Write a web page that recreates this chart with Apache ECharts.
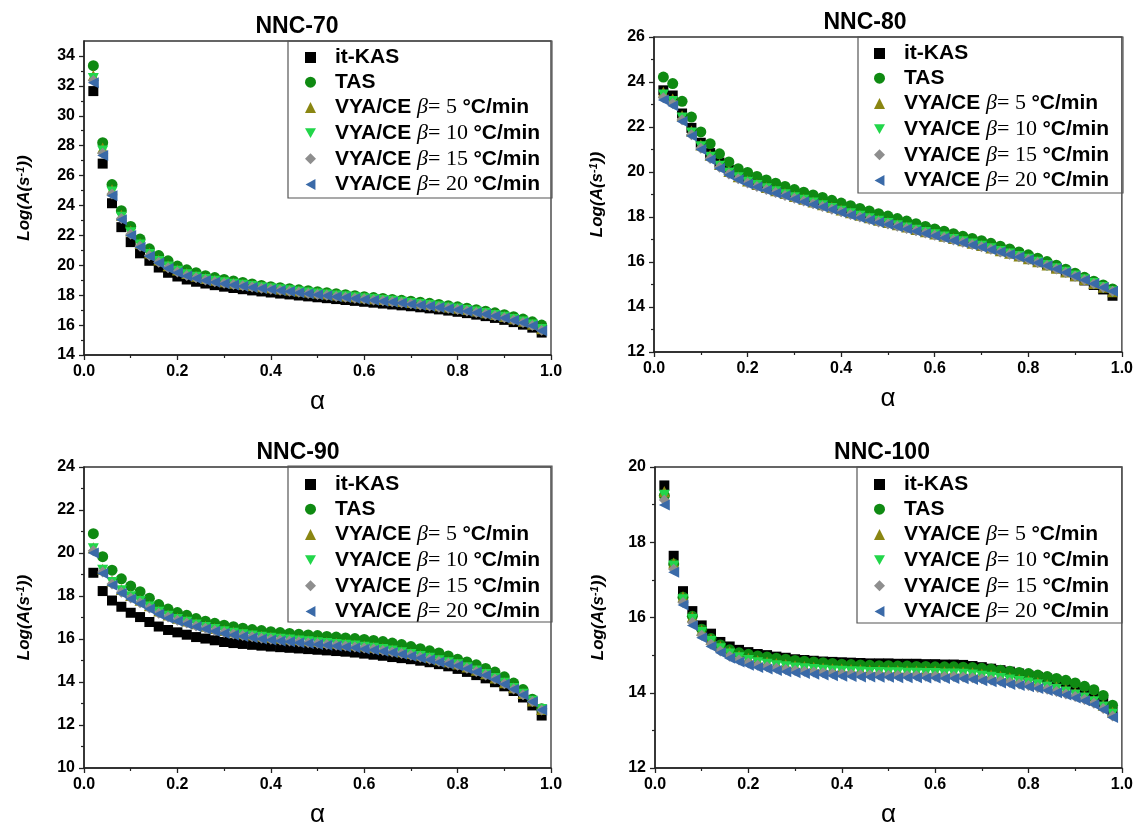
<!DOCTYPE html>
<html>
<head>
<meta charset="utf-8">
<script src="https://cdn.jsdelivr.net/npm/echarts@6/dist/echarts.min.js"></script>
<style>html,body{margin:0;padding:0;background:#fff}#c{width:1136px;height:829px}</style>
</head>
<body>
<div id="c"></div>
<script>
const alpha = [0.02,0.04,0.06,0.08,0.10,0.12,0.14,0.16,0.18,0.20,0.22,0.24,0.26,0.28,0.30,0.32,0.34,0.36,0.38,0.40,0.42,0.44,0.46,0.48,0.50,0.52,0.54,0.56,0.58,0.60,0.62,0.64,0.66,0.68,0.70,0.72,0.74,0.76,0.78,0.80,0.82,0.84,0.86,0.88,0.90,0.92,0.94,0.96,0.98];
const xTicks = [0.0,0.2,0.4,0.6,0.8,1.0];
const seriesNames = ['it-KAS','TAS','VYA/CE 5','VYA/CE 10','VYA/CE 15','VYA/CE 20'];
const panelTitles = ['NNC-70','NNC-80','NNC-90','NNC-100'];
const yTicks70 = [14,16,18,20,22,24,26,28,30,32,34];
const yTicks80 = [12,14,16,18,20,22,24,26];
const yTicks90 = [10,12,14,16,18,20,22,24];
const yTicks100 = [12,14,16,18,20];

// NNC-70
const nnc70_itKAS = [31.65,26.8,24.15,22.55,21.55,20.8,20.3,19.85,19.5,19.25,19.05,18.9,18.78,18.67,18.57,18.48,18.4,18.32,18.25,18.18,18.11,18.05,17.98,17.92,17.86,17.8,17.74,17.68,17.62,17.56,17.5,17.44,17.38,17.32,17.26,17.19,17.12,17.05,16.97,16.89,16.8,16.7,16.6,16.48,16.35,16.2,16.03,15.83,15.5];
const nnc70_TAS = [33.35,28.2,25.4,23.65,22.6,21.75,21.1,20.65,20.3,19.95,19.7,19.5,19.3,19.18,19.05,18.95,18.85,18.75,18.65,18.57,18.5,18.43,18.36,18.3,18.23,18.17,18.1,18.03,17.97,17.9,17.84,17.78,17.72,17.66,17.6,17.53,17.46,17.38,17.3,17.22,17.13,17.03,16.93,16.82,16.7,16.56,16.4,16.22,16.0];
const nnc70_vya5 = [32.7,27.85,25.05,23.35,22.3,21.45,20.82,20.35,19.97,19.68,19.45,19.27,19.12,19.0,18.9,18.8,18.72,18.64,18.56,18.49,18.42,18.35,18.28,18.21,18.14,18.08,18.01,17.95,17.89,17.83,17.77,17.71,17.65,17.58,17.51,17.44,17.37,17.29,17.21,17.13,17.04,16.94,16.83,16.71,16.58,16.43,16.26,16.06,15.75];
const nnc70_vya10 = [32.5,27.65,24.9,23.22,22.17,21.35,20.72,20.26,19.88,19.6,19.37,19.2,19.05,18.93,18.83,18.74,18.66,18.58,18.5,18.43,18.36,18.29,18.22,18.15,18.08,18.02,17.95,17.89,17.83,17.77,17.71,17.65,17.59,17.52,17.45,17.38,17.31,17.23,17.15,17.07,16.98,16.88,16.77,16.65,16.52,16.37,16.2,16.0,15.7];
const nnc70_vya15 = [32.35,27.5,24.77,23.13,22.08,21.27,20.66,20.2,19.83,19.55,19.32,19.16,19.01,18.9,18.8,18.71,18.63,18.55,18.47,18.4,18.33,18.26,18.19,18.12,18.05,17.99,17.92,17.86,17.8,17.74,17.68,17.62,17.56,17.49,17.42,17.35,17.28,17.2,17.12,17.04,16.95,16.85,16.74,16.62,16.49,16.34,16.17,15.97,15.66];
const nnc70_vya20 = [32.2,27.35,24.65,23.05,22.0,21.2,20.6,20.15,19.78,19.5,19.28,19.12,18.98,18.87,18.77,18.68,18.6,18.52,18.45,18.38,18.31,18.24,18.17,18.1,18.03,17.97,17.9,17.84,17.78,17.72,17.66,17.6,17.54,17.47,17.4,17.33,17.26,17.18,17.1,17.02,16.93,16.83,16.72,16.6,16.47,16.32,16.15,15.95,15.62];

// NNC-80
const nnc80_itKAS = [23.63,23.4,22.6,21.96,21.3,20.84,20.42,20.1,19.87,19.7,19.55,19.4,19.27,19.15,19.03,18.91,18.79,18.67,18.56,18.45,18.34,18.23,18.12,18.01,17.9,17.79,17.68,17.57,17.46,17.36,17.25,17.14,17.03,16.92,16.81,16.69,16.57,16.45,16.33,16.2,16.06,15.9,15.74,15.56,15.37,15.18,14.98,14.78,14.5];
const nnc80_TAS = [24.22,23.93,23.14,22.44,21.78,21.26,20.81,20.45,20.15,19.98,19.8,19.65,19.5,19.36,19.22,19.1,18.98,18.87,18.74,18.62,18.5,18.38,18.27,18.15,18.04,17.93,17.82,17.7,17.58,17.47,17.37,17.26,17.15,17.05,16.95,16.83,16.7,16.58,16.45,16.32,16.17,16.02,15.86,15.68,15.5,15.32,15.15,14.98,14.8];
const nnc80_vya5 = [23.55,23.25,22.5,21.82,21.2,20.74,20.33,20.02,19.79,19.6,19.45,19.31,19.17,19.04,18.91,18.79,18.67,18.55,18.43,18.31,18.19,18.08,17.97,17.86,17.76,17.66,17.56,17.45,17.35,17.25,17.15,17.04,16.94,16.83,16.73,16.62,16.5,16.39,16.27,16.14,16.01,15.87,15.72,15.56,15.39,15.22,15.05,14.88,14.68];
const nnc80_vya10 = [23.42,23.13,22.4,21.73,21.12,20.66,20.26,19.96,19.74,19.55,19.4,19.26,19.12,18.99,18.86,18.74,18.62,18.5,18.38,18.26,18.14,18.03,17.92,17.81,17.71,17.61,17.51,17.41,17.31,17.21,17.11,17.0,16.9,16.8,16.7,16.59,16.47,16.36,16.24,16.12,15.99,15.85,15.7,15.54,15.38,15.21,15.04,14.87,14.68];
const nnc80_vya15 = [23.3,23.04,22.32,21.66,21.06,20.6,20.21,19.91,19.7,19.51,19.36,19.22,19.09,18.96,18.83,18.71,18.59,18.47,18.35,18.23,18.11,18.0,17.89,17.78,17.69,17.59,17.49,17.39,17.29,17.19,17.09,16.98,16.88,16.78,16.68,16.57,16.45,16.34,16.23,16.11,15.98,15.84,15.69,15.53,15.37,15.2,15.03,14.87,14.7];
const nnc80_vya20 = [23.2,22.95,22.25,21.6,21.0,20.55,20.16,19.87,19.66,19.47,19.33,19.19,19.06,18.94,18.8,18.68,18.56,18.45,18.33,18.2,18.08,17.97,17.86,17.76,17.67,17.57,17.47,17.37,17.27,17.17,17.07,16.96,16.86,16.76,16.66,16.55,16.44,16.33,16.22,16.1,15.97,15.83,15.69,15.53,15.37,15.2,15.03,14.87,14.7];

// NNC-90
const nnc90_itKAS = [19.08,18.23,17.79,17.5,17.22,17.02,16.79,16.58,16.42,16.31,16.2,16.09,16.02,15.94,15.86,15.81,15.77,15.73,15.69,15.65,15.62,15.59,15.56,15.53,15.5,15.47,15.44,15.41,15.37,15.32,15.27,15.22,15.16,15.11,15.06,14.99,14.92,14.83,14.73,14.61,14.47,14.32,14.17,13.99,13.8,13.58,13.28,12.91,12.44];
const nnc90_TAS = [20.9,19.83,19.2,18.8,18.46,18.2,17.9,17.6,17.39,17.23,17.1,16.95,16.83,16.73,16.64,16.57,16.5,16.44,16.39,16.34,16.3,16.26,16.22,16.19,16.16,16.12,16.09,16.05,16.02,15.98,15.93,15.88,15.81,15.74,15.65,15.55,15.45,15.35,15.21,15.06,14.93,14.8,14.63,14.46,14.24,13.95,13.65,13.2,12.76];
const nnc90_vya5 = [20.25,19.25,18.7,18.3,18.02,17.8,17.55,17.3,17.12,16.97,16.84,16.71,16.59,16.49,16.39,16.32,16.25,16.19,16.13,16.08,16.04,16.0,15.96,15.92,15.88,15.84,15.8,15.76,15.72,15.67,15.62,15.56,15.49,15.41,15.33,15.24,15.15,15.04,14.94,14.84,14.7,14.55,14.38,14.19,13.97,13.73,13.46,13.12,12.72];
const nnc90_vya10 = [20.2,19.2,18.63,18.24,17.96,17.74,17.49,17.24,17.06,16.91,16.78,16.65,16.54,16.44,16.34,16.27,16.2,16.14,16.08,16.03,15.99,15.95,15.91,15.87,15.83,15.79,15.75,15.71,15.67,15.62,15.57,15.51,15.44,15.36,15.28,15.19,15.1,14.99,14.9,14.8,14.66,14.51,14.35,14.16,13.94,13.7,13.43,13.1,12.72];
const nnc90_vya15 = [20.1,19.12,18.56,18.18,17.91,17.69,17.44,17.2,17.02,16.87,16.74,16.61,16.5,16.4,16.3,16.23,16.16,16.1,16.04,15.99,15.95,15.91,15.87,15.83,15.79,15.75,15.71,15.67,15.63,15.58,15.53,15.47,15.4,15.32,15.24,15.15,15.06,14.95,14.87,14.78,14.64,14.49,14.33,14.14,13.92,13.68,13.41,13.09,12.7];
const nnc90_vya20 = [20.0,19.05,18.5,18.13,17.86,17.64,17.39,17.15,16.97,16.83,16.7,16.57,16.46,16.36,16.26,16.19,16.12,16.06,16.0,15.95,15.91,15.87,15.83,15.79,15.75,15.71,15.67,15.63,15.59,15.54,15.49,15.43,15.37,15.29,15.2,15.12,15.03,14.92,14.84,14.76,14.62,14.47,14.31,14.12,13.9,13.66,13.4,13.08,12.7];

// NNC-100
const nnc100_itKAS = [19.51,17.64,16.7,16.17,15.79,15.57,15.35,15.23,15.14,15.08,15.03,15.0,14.96,14.93,14.89,14.87,14.85,14.83,14.82,14.81,14.8,14.79,14.78,14.78,14.78,14.77,14.77,14.77,14.76,14.76,14.75,14.75,14.74,14.71,14.68,14.64,14.6,14.56,14.51,14.46,14.42,14.38,14.32,14.26,14.17,14.05,13.92,13.75,13.5];
const nnc100_TAS = [19.24,17.42,16.54,16.03,15.69,15.44,15.27,15.14,15.06,15.02,14.98,14.95,14.92,14.89,14.86,14.84,14.82,14.8,14.78,14.76,14.75,14.74,14.73,14.72,14.72,14.71,14.71,14.7,14.7,14.69,14.69,14.69,14.68,14.67,14.65,14.63,14.6,14.57,14.54,14.51,14.47,14.43,14.38,14.33,14.26,14.17,14.08,13.93,13.67];
const nnc100_vya5 = [19.35,17.45,16.55,16.02,15.66,15.42,15.23,15.09,14.99,14.92,14.86,14.82,14.78,14.75,14.72,14.7,14.68,14.66,14.64,14.63,14.62,14.61,14.6,14.6,14.59,14.59,14.58,14.58,14.57,14.57,14.56,14.56,14.55,14.53,14.5,14.47,14.44,14.4,14.36,14.32,14.27,14.21,14.15,14.08,14.0,13.91,13.81,13.67,13.48];
const nnc100_vya10 = [19.25,17.36,16.47,15.95,15.6,15.36,15.17,15.03,14.93,14.86,14.8,14.76,14.72,14.69,14.66,14.64,14.62,14.6,14.58,14.57,14.56,14.55,14.54,14.54,14.53,14.53,14.52,14.52,14.51,14.51,14.5,14.5,14.49,14.47,14.44,14.41,14.38,14.34,14.3,14.26,14.21,14.15,14.09,14.02,13.94,13.86,13.76,13.62,13.43];
const nnc100_vya15 = [19.12,17.28,16.4,15.87,15.53,15.29,15.11,14.97,14.87,14.79,14.73,14.69,14.65,14.62,14.59,14.57,14.55,14.53,14.51,14.5,14.49,14.48,14.47,14.47,14.46,14.46,14.45,14.45,14.44,14.44,14.43,14.43,14.42,14.4,14.37,14.34,14.31,14.27,14.23,14.19,14.14,14.09,14.03,13.97,13.9,13.82,13.72,13.58,13.38];
const nnc100_vya20 = [18.99,17.2,16.33,15.79,15.46,15.23,15.06,14.92,14.82,14.73,14.67,14.63,14.59,14.56,14.53,14.51,14.49,14.47,14.45,14.44,14.43,14.42,14.42,14.41,14.41,14.4,14.4,14.4,14.39,14.39,14.38,14.38,14.37,14.35,14.32,14.29,14.26,14.22,14.19,14.16,14.11,14.06,14.0,13.94,13.86,13.79,13.69,13.55,13.34];

// ---------- layout / style ----------
const panels = [
  {grid:{left:84,top:41,width:467,height:314}, ymin:14, ymax:35, ticks:yTicks70, legend:{left:305,top:47}, box:[288,41,264,157], title:[297,27], nameGap:50,
   data:[nnc70_itKAS,nnc70_TAS,nnc70_vya5,nnc70_vya10,nnc70_vya15,nnc70_vya20]},
  {grid:{left:654,top:37,width:469,height:315}, ymin:12, ymax:26, ticks:yTicks80, legend:{left:874,top:43}, box:[858,37,265,156], title:[865,23], nameGap:47,
   data:[nnc80_itKAS,nnc80_TAS,nnc80_vya5,nnc80_vya10,nnc80_vya15,nnc80_vya20]},
  {grid:{left:84,top:467,width:467,height:315}, ymin:10, ymax:24, ticks:yTicks90, legend:{left:305,top:474}, box:[288,466,264,156], title:[298,453], nameGap:50,
   data:[nnc90_itKAS,nnc90_TAS,nnc90_vya5,nnc90_vya10,nnc90_vya15,nnc90_vya20]},
  {grid:{left:655,top:467,width:467,height:315}, ymin:12, ymax:20, ticks:yTicks100, legend:{left:874,top:474}, box:[857,467,265,156], title:[882,453], nameGap:47,
   data:[nnc100_itKAS,nnc100_TAS,nnc100_vya5,nnc100_vya10,nnc100_vya15,nnc100_vya20]}
];
const colors = ['#000000','#0f8a12','#8a8612','#22d64a','#8e8e8e','#3a6aa8'];
const symbols = ['rect','circle','triangle','path://M0,0L10,0L5,9Z','diamond','path://M9,0L9,10L0,5Z'];
const sizes = [10,11,11,11,11,11];

const grids=[], xAxes=[], yAxes=[], series=[], legends=[], graphics=[];
panels.forEach((p,i)=>{
  grids.push(Object.assign({show:true,borderColor:'#333',borderWidth:1.3,backgroundColor:'transparent'},p.grid));
  xAxes.push({gridIndex:i,type:'value',min:0,max:1,interval:0.2,
    axisLine:{show:true,lineStyle:{color:'#222',width:1.5}},
    axisTick:{show:true,length:5,lineStyle:{color:'#222',width:1.3}},
    minorTick:{show:true,splitNumber:2,length:3,lineStyle:{color:'#222',width:1.2}},
    splitLine:{show:false},
    axisLabel:{color:'#000',fontSize:16,fontWeight:'bold',fontFamily:'Liberation Sans',margin:9,formatter:v=>v.toFixed(1)},
    name:'α',nameLocation:'middle',nameGap:34,nameTextStyle:{color:'#000',fontSize:26,fontFamily:'Liberation Sans'}});
  yAxes.push({gridIndex:i,type:'value',min:p.ymin,max:p.ymax,interval:2,
    axisLine:{show:true,lineStyle:{color:'#222',width:1.5}},
    axisTick:{show:true,length:5,customValues:p.ticks,lineStyle:{color:'#222',width:1.3}},
    minorTick:{show:true,splitNumber:2,length:3,lineStyle:{color:'#222',width:1.2}},
    splitLine:{show:false},
    axisLabel:{color:'#000',fontSize:16,fontWeight:'bold',fontFamily:'Liberation Sans',margin:9,customValues:p.ticks},
    name:'{a|Log(A(s}{b|-1}{a|))}',nameLocation:'middle',nameGap:p.nameGap,
    nameTextStyle:{rich:{a:{fontSize:17,fontStyle:'italic',fontWeight:'bold',fontFamily:'Liberation Sans',color:'#000'},
                         b:{fontSize:11,fontStyle:'italic',fontWeight:'bold',fontFamily:'Liberation Sans',color:'#000',verticalAlign:'top',padding:[0,0,8,0]}}}});
  p.data.forEach((arr,k)=>{
    series.push({type:'scatter',name:seriesNames[k],xAxisIndex:i,yAxisIndex:i,
      symbol:symbols[k],symbolSize:sizes[k],itemStyle:{color:colors[k],opacity:1},
      data:alpha.map((a,j)=>[a,arr[j]]),emphasis:{disabled:true},animation:false});
  });
  legends.push({orient:'vertical',left:p.legend.left,top:p.legend.top,padding:0,itemGap:3.7,itemWidth:11,itemHeight:11,
    selectedMode:false,
    data:seriesNames.map((n,k)=>({name:n,icon:symbols[k]})),
    formatter:function(name){
      if(name.indexOf('VYA')===0){const b=name.split(' ')[1];return '{p|VYA/CE }{g|β}{t|= '+b+' }{q|°C/min}';}
      return '{p|'+name+'}';
    },
    textStyle:{color:'#000',rich:{
      p:{fontSize:21,fontWeight:'bold',fontFamily:'Liberation Sans',color:'#000',lineHeight:20,padding:[0,0,0,14]},
      g:{fontSize:22,fontStyle:'italic',fontFamily:'Liberation Serif',color:'#000',lineHeight:20},
      t:{fontSize:22,fontFamily:'Liberation Serif',color:'#000',lineHeight:20},
      q:{fontSize:21,fontWeight:'bold',fontFamily:'Liberation Sans',color:'#000',lineHeight:20}}}});
  graphics.push({type:'rect',shape:{x:p.box[0],y:p.box[1],width:p.box[2],height:p.box[3]},
    style:{fill:'none',stroke:'#555',lineWidth:1.2},z:100,silent:true});
  graphics.push({type:'text',x:p.title[0],y:p.title[1],
    style:{text:panelTitles[i],textAlign:'center',textVerticalAlign:'middle',font:'bold 23px "Liberation Sans"',fill:'#000'},silent:true});
});

const chart = echarts.init(document.getElementById('c'),null,{renderer:'canvas'});
chart.setOption({animation:false,backgroundColor:'#fff',grid:grids,xAxis:xAxes,yAxis:yAxes,series:series,legend:legends,graphic:graphics});
</script>
</body>
</html>
